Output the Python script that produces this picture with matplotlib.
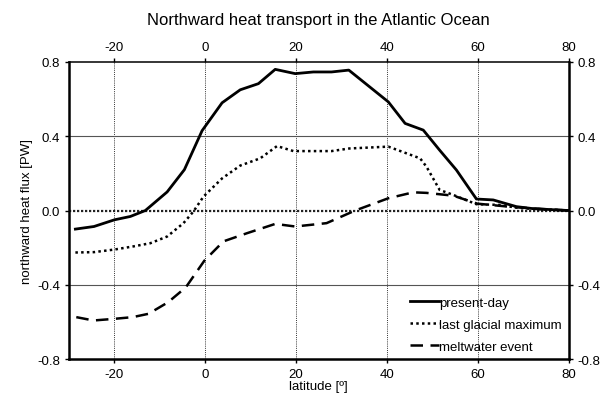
import numpy as np
import matplotlib.pyplot as plt

plt.rcParams['font.family'] = ['Liberation Sans', 'DejaVu Sans']
plt.rcParams['axes.unicode_minus'] = False

# present-day
lat_pd = [-28.6, -24.5, -20, -16.5, -13.2, -8.4, -4.6, -0.7, 3.7, 7.7, 11.7, 15.4, 19.8,
          23.8, 27.8, 31.6, 40.3, 44, 48, 51.6, 55.3, 59.7, 63.4, 68.5, 72.2, 80]
flux_pd = [-0.10, -0.086, -0.05, -0.032, 0.0, 0.10, 0.22, 0.43, 0.58, 0.65, 0.683, 0.76, 0.737,
           0.746, 0.746, 0.756, 0.585, 0.469, 0.433, 0.325, 0.218, 0.062, 0.057, 0.021, 0.01, 0.0]

# last glacial maximum
lat_lgm = [-28.6, -24.5, -20, -15.8, -12.1, -8.4, -4.8, -2.6, -0.4, 3.7, 7.7, 12.1, 15.8,
           19.4, 23.8, 27.8, 31.7, 40.3, 47.3, 48.7, 51.6, 54.6, 59.7, 64.8, 69.2, 75.8, 80]
flux_lgm = [-0.226, -0.224, -0.21, -0.193, -0.176, -0.14, -0.068, -0.005, 0.075, 0.173, 0.242,
            0.281, 0.347, 0.32, 0.32, 0.32, 0.334, 0.344, 0.281, 0.236, 0.111, 0.084, 0.034,
            0.03, 0.013, 0.005, 0.0]

# meltwater event
lat_mw = [-28.4, -24.6, -20, -16, -12.5, -8.2, -4.3, -0.2, 4, 9.2, 15.4, 19.8, 26.7, 33,
          40.3, 45.8, 48.7, 54.6, 59.9, 66.7, 73.5, 80]
flux_mw = [-0.574, -0.592, -0.583, -0.574, -0.556, -0.494, -0.414, -0.27, -0.166, -0.122,
           -0.072, -0.086, -0.068, 0.0, 0.066, 0.098, 0.095, 0.08, 0.037, 0.021, 0.009, 0.0]

xticks = [-20, 0, 20, 40, 60, 80]
yticks = [-0.8, -0.4, 0.0, 0.4, 0.8]

fig = plt.figure(figsize=(6.13, 4.06), dpi=100)
ax = fig.add_axes([0.1126, 0.113, 0.815, 0.732])

# grid
for x in xticks[:-1]:
    ax.axvline(x, color='#333333', lw=0.7, ls=(0, (1, 1.2)), zorder=1)
for y in [-0.4, 0.4]:
    ax.axhline(y, color='#555555', lw=0.8, zorder=1)
ax.axhline(0.0, color='#222222', lw=1.6, ls=(0, (1, 0.8)), zorder=1)

ax.plot(lat_pd, flux_pd, color='black', lw=2.0, label='present-day', zorder=3)
ax.plot(lat_lgm, flux_lgm, color='black', lw=1.8, ls=(0, (1, 1.3)),
        label='last glacial maximum', zorder=3)
ax.plot(lat_mw, flux_mw, color='black', lw=1.8, ls=(0, (5, 3)),
        label='meltwater event', zorder=3)

ax.set_xlim(-30, 80)
ax.set_ylim(-0.8, 0.8)
ax.set_xticks(xticks)
ax.set_yticks(yticks)
ax.set_yticklabels(['%.1f' % v for v in yticks])

ax.tick_params(axis='both', which='both', direction='out', length=3, width=1.0,
               labelsize=9.5, top=True, right=True, labeltop=True, labelright=True)

for side in ['left', 'right', 'bottom']:
    ax.spines[side].set_linewidth(1.8)
ax.spines['top'].set_linewidth(1.1)

ax.set_xlabel('latitude [º]', fontsize=9.5, labelpad=0)
ax.set_ylabel('northward heat flux [PW]', fontsize=9.5, labelpad=3)
ax.set_title('Northward heat transport in the Atlantic Ocean', fontsize=12, pad=12)

ax.legend(loc='lower right', frameon=False, fontsize=9.5, handlelength=2.2,
          handletextpad=0.05, labelspacing=0.72, borderaxespad=0.1,
          bbox_to_anchor=(1.0, 0.0))

fig.savefig('out.png', dpi=100)
